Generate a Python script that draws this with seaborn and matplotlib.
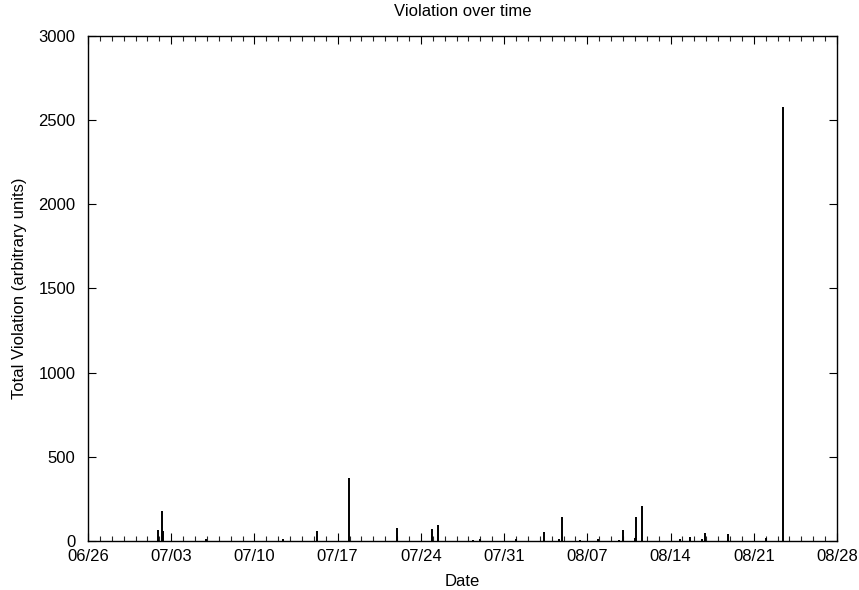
import matplotlib
matplotlib.use("Agg")
import matplotlib.pyplot as plt
import matplotlib.dates as mdates
import matplotlib.ticker as mticker
import seaborn as sns
import pandas as pd

# impulse events (timestamp, total violation)
event_times = [
    "2013-07-01 20:40", "2013-07-02 04:50", "2013-07-02 07:30", "2013-07-05 22:00",
    "2013-07-12 10:30", "2013-07-15 05:45", "2013-07-17 22:50", "2013-07-21 23:45",
    "2013-07-24 23:00", "2013-07-25 09:50", "2013-07-28 09:50", "2013-07-28 23:15",
    "2013-08-01 01:00", "2013-08-03 09:10", "2013-08-04 14:50", "2013-08-04 20:10",
    "2013-08-06 09:10", "2013-08-07 22:05", "2013-08-09 16:35", "2013-08-09 23:15",
    "2013-08-11 00:15", "2013-08-11 03:10", "2013-08-11 14:25", "2013-08-14 19:00",
    "2013-08-15 15:10", "2013-08-16 14:50", "2013-08-16 20:50", "2013-08-18 20:40",
    "2013-08-22 00:45", "2013-08-23 11:30",
]
violation = [
    65, 180, 60, 10,
    10, 60, 375, 80,
    70, 95, 8, 12,
    10, 55, 10, 140,
    8, 10, 8, 65,
    15, 145, 210, 10,
    25, 10, 45, 40,
    15, 2575,
]

start_date = "2013-06-26"
end_date = "2013-08-28"

df = pd.DataFrame({"Date": pd.to_datetime(event_times), "Violation": violation})

sns.set_style("ticks")
plt.rcParams["font.family"] = ["Liberation Sans", "DejaVu Sans"]
plt.rcParams["text.color"] = "black"
plt.rcParams["axes.labelcolor"] = "black"

fig = plt.figure(figsize=(8.59, 5.90), dpi=100)
ax = fig.add_axes([0.1024, 0.0831, 0.872, 0.856])

ax.vlines(df["Date"], 0, df["Violation"], color="black", linewidth=1.4)

ax.set_xlim(pd.Timestamp(start_date), pd.Timestamp(end_date))
ax.set_ylim(0, 3000)
ax.set_yticks(range(0, 3001, 500))

weekly = pd.date_range(start_date, end_date, freq="7D")
daily = pd.date_range(start_date, end_date, freq="D")
ax.xaxis.set_major_locator(mticker.FixedLocator(mdates.date2num(weekly)))
ax.xaxis.set_minor_locator(mticker.FixedLocator(mdates.date2num(daily)))
ax.xaxis.set_major_formatter(mdates.DateFormatter("%m/%d"))

ax.tick_params(axis="both", which="major", direction="in", length=6, width=0.8,
               top=True, right=True, labelsize=12, colors="black")
ax.tick_params(axis="x", which="major", pad=6)
ax.tick_params(axis="y", which="major", pad=9)
ax.tick_params(axis="x", which="minor", direction="in", length=3.3, width=0.8,
               top=True, bottom=True)
for side in ax.spines.values():
    side.set_visible(True)
    side.set_linewidth(1.0)
    side.set_color("black")

ax.set_title("Violation over time", fontsize=12, pad=14, color="black")
ax.set_xlabel("Date", fontsize=12, labelpad=7)
ax.set_ylabel("Total Violation (arbitrary units)", fontsize=12, labelpad=8)

fig.savefig("out.png", dpi=100)
